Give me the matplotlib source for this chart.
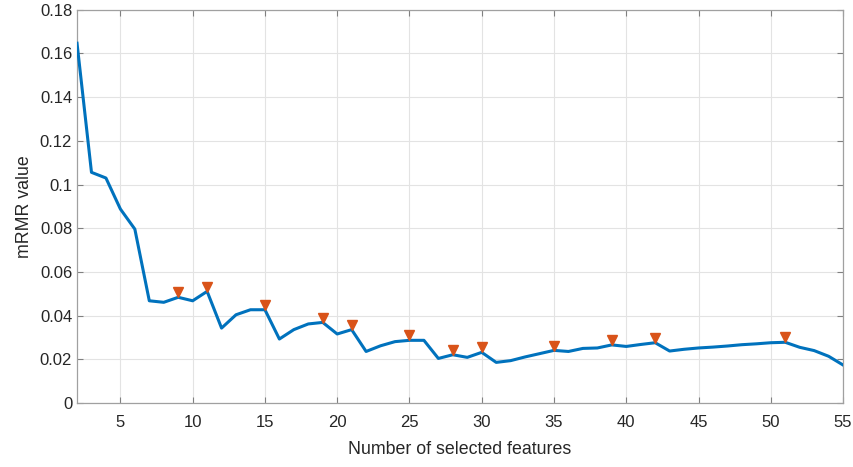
import matplotlib
matplotlib.use("Agg")
import matplotlib.pyplot as plt
import matplotlib.transforms as mtransforms

plt.rcParams['font.family'] = ['Liberation Sans', 'DejaVu Sans']

# number of selected features and the mRMR value at each
n_features = list(range(2, 56))
mrmr = [0.1647, 0.1056, 0.1030, 0.0888, 0.0796, 0.0468, 0.0461, 0.0484, 0.0468, 0.0511,
        0.0343, 0.0404, 0.0427, 0.0427, 0.0293, 0.0336, 0.0362, 0.0369, 0.0316, 0.0336,
        0.0236, 0.0262, 0.0281, 0.0287, 0.0287, 0.0204, 0.0221, 0.0209, 0.0232, 0.0186,
        0.0194, 0.0211, 0.0226, 0.0241, 0.0236, 0.0250, 0.0252, 0.0266, 0.0259, 0.0268,
        0.0276, 0.0238, 0.0246, 0.0252, 0.0256, 0.0261, 0.0267, 0.0271, 0.0276, 0.0278,
        0.0255, 0.0240, 0.0214, 0.0174]
# local peaks marked with triangles
peaks = [9, 11, 15, 19, 21, 25, 28, 30, 35, 39, 42, 51]

fig = plt.figure(figsize=(8.54, 4.67), dpi=100)
ax = fig.add_axes([0.0902, 0.137, 0.897, 0.842])

ax.plot(n_features, mrmr, color='#0072BD', lw=2.2, zorder=3)

peak_vals = [mrmr[n_features.index(p)] for p in peaks]
# the triangles sit just on top of the line
off = mtransforms.offset_copy(ax.transData, fig=fig, x=0, y=3.5, units='points')
ax.plot(peaks, peak_vals, 'v', color='#D95319', ms=6.5, transform=off, zorder=4)

ax.set_xlim(2, 55)
ax.set_ylim(0, 0.18)
ax.set_xticks([5, 10, 15, 20, 25, 30, 35, 40, 45, 50, 55])
ax.set_yticks([0, 0.02, 0.04, 0.06, 0.08, 0.1, 0.12, 0.14, 0.16, 0.18])
ax.set_yticklabels(['0', '0.02', '0.04', '0.06', '0.08', '0.1', '0.12', '0.14', '0.16', '0.18'])

ax.grid(True, color='#e3e3e3', lw=0.8)
ax.set_axisbelow(True)
for s in ax.spines.values():
    s.set_color('#a0a0a0')
    s.set_linewidth(0.9)
ax.tick_params(direction='in', length=4, color='#808080', labelcolor='#262626',
               labelsize=12, top=True, right=True, labeltop=False, labelright=False)
ax.tick_params(axis='x', pad=8.5)
ax.tick_params(axis='y', pad=3.5)

ax.set_xlabel('Number of selected features', fontsize=12.8, color='#262626', labelpad=8)
ax.set_ylabel('mRMR value', fontsize=12.8, color='#262626', labelpad=5)

fig.savefig('out.png', dpi=100)
